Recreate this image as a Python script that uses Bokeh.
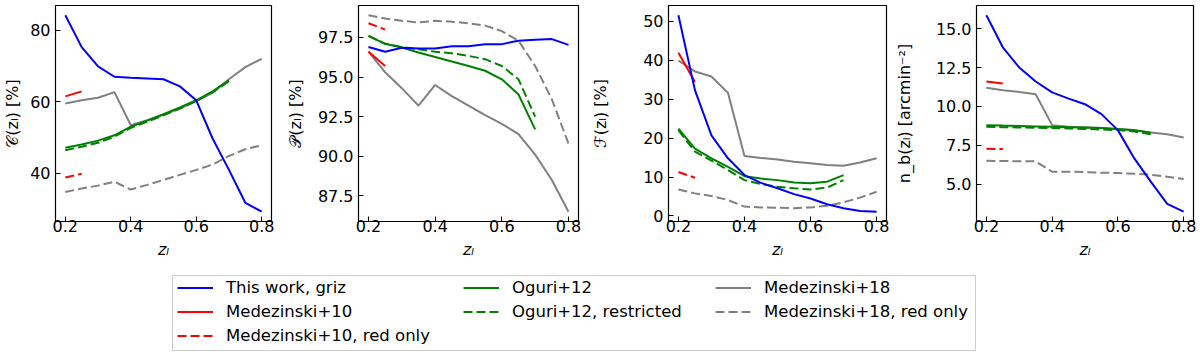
import numpy as np
from bokeh.plotting import figure
from bokeh.models import (Range1d, FixedTicker, NumeralTickFormatter, Legend,
                          LegendItem)
from bokeh.layouts import row, column
from bokeh.embed import file_html
from bokeh.resources import INLINE

# ---------------- data ----------------
z_all = [0.20, 0.25, 0.30, 0.35, 0.40, 0.45, 0.50, 0.55, 0.60, 0.65, 0.70, 0.75, 0.80]
z_ogu = [0.20, 0.25, 0.30, 0.35, 0.40, 0.45, 0.50, 0.55, 0.60, 0.65, 0.70]
z_m10 = [0.20, 0.25]

# completeness C(z_l) [%]
C_this = [84.2, 75.3, 69.9, 67.0, 66.7, 66.5, 66.3, 64.3, 60.4, 49.7, 40.9, 31.7, 29.2]
C_m10 = [61.5, 62.9]
C_m10_red = [38.8, 39.8]
C_ogu = [47.1, 48.0, 49.1, 50.6, 53.0, 54.7, 56.5, 58.4, 60.4, 62.9, 66.0]
C_ogu_res = [46.4, 47.4, 48.5, 50.2, 52.7, 54.4, 56.2, 58.1, 60.2, 62.7, 65.7]
C_m18 = [59.5, 60.4, 61.1, 62.7, 53.4, 54.8, 56.4, 58.1, 60.2, 62.5, 66.3, 69.7, 72.0]
C_m18_red = [34.7, 35.7, 36.5, 37.6, 35.4, 36.7, 38.1, 39.5, 40.9, 42.4, 44.8, 46.7, 47.8]

# purity P(z_l) [%]
P_this = [96.9, 96.6, 96.85, 96.8, 96.8, 96.95, 96.95, 97.08, 97.08, 97.3, 97.35, 97.4, 97.03]
P_m10 = [96.6, 95.7]
P_m10_red = [98.4, 98.0]
P_ogu = [97.6, 97.1, 96.87, 96.55, 96.27, 95.98, 95.7, 95.4, 94.86, 93.9, 91.7]
P_ogu_res = [97.6, 97.1, 96.9, 96.76, 96.6, 96.5, 96.34, 96.13, 95.7, 94.86, 92.5]
P_m18 = [96.6, 95.3, 94.3, 93.2, 94.5, 93.8, 93.2, 92.6, 92.05, 91.4, 90.1, 88.5, 86.5]
P_m18_red = [98.9, 98.7, 98.55, 98.45, 98.55, 98.5, 98.4, 98.25, 97.9, 97.3, 95.7, 93.6, 90.8]

# contamination F(z_l) [%]
F_this = [51.5, 32.3, 20.7, 14.8, 10.5, 8.5, 7.1, 5.6, 4.5, 3.0, 2.0, 1.3, 1.1]
F_m10 = [41.9, 34.4]
F_m10_red = [11.3, 9.8]
F_ogu = [22.4, 17.3, 14.8, 12.6, 10.2, 9.6, 9.2, 8.6, 8.4, 8.8, 10.5]
F_ogu_res = [22.0, 16.5, 14.2, 11.8, 9.2, 8.2, 7.5, 7.1, 6.8, 7.3, 9.2]
F_m18 = [39.9, 37.1, 35.8, 31.6, 15.4, 14.9, 14.5, 13.9, 13.5, 13.1, 12.9, 13.7, 14.8]
F_m18_red = [6.8, 5.8, 5.1, 4.1, 2.4, 2.2, 2.1, 2.0, 2.2, 2.6, 3.5, 4.7, 6.2]

# background density n_b(z_l) [arcmin^-2]
N_this = [15.86, 13.8, 12.5, 11.6, 10.9, 10.5, 10.14, 9.5, 8.47, 6.65, 5.15, 3.72, 3.22]
N_m10 = [11.6, 11.47]
N_m10_red = [7.27, 7.25]
N_ogu = [8.79, 8.76, 8.74, 8.71, 8.68, 8.66, 8.64, 8.6, 8.55, 8.47, 8.3]
N_ogu_res = [8.68, 8.66, 8.64, 8.62, 8.6, 8.58, 8.55, 8.51, 8.47, 8.38, 8.21]
N_m18 = [11.2, 11.04, 10.93, 10.78, 8.79, 8.68, 8.64, 8.6, 8.53, 8.47, 8.32, 8.21, 8.0]
N_m18_red = [6.5, 6.48, 6.47, 6.46, 5.79, 5.79, 5.77, 5.73, 5.71, 5.66, 5.6, 5.47, 5.32]

labels = ["This work, griz", "Medezinski+10", "Medezinski+10, red only",
          "Oguri+12", "Oguri+12, restricted", "Medezinski+18", "Medezinski+18, red only"]
x_ticks = [0.2, 0.4, 0.6, 0.8]

# ---------------- styling ----------------
FONT = "DejaVu Sans"
STYLE = {
    "This work, griz": ("blue", "solid"),
    "Medezinski+10": ("red", "solid"),
    "Medezinski+10, red only": ("red", "9 4"),
    "Oguri+12": ("green", "solid"),
    "Oguri+12, restricted": ("green", "9 4"),
    "Medezinski+18": ("gray", "solid"),
    "Medezinski+18, red only": ("gray", "9 4"),
}
LW = 2

panels = [
    dict(ylabel="𝒞(zₗ) [%]", yticks=[40, 60, 80], fmt="0",
         series=[C_m18_red, C_m18, C_ogu_res, C_ogu, C_m10_red, C_m10, C_this]),
    dict(ylabel="𝒫(zₗ) [%]", yticks=[87.5, 90.0, 92.5, 95.0, 97.5], fmt="0.0",
         series=[P_m18_red, P_m18, P_ogu_res, P_ogu, P_m10_red, P_m10, P_this]),
    dict(ylabel="ℱ(zₗ) [%]", yticks=[0, 10, 20, 30, 40, 50], fmt="0",
         series=[F_m18_red, F_m18, F_ogu_res, F_ogu, F_m10_red, F_m10, F_this]),
    dict(ylabel="n_b(zₗ) [arcmin⁻²]", yticks=[5.0, 7.5, 10.0, 12.5, 15.0], fmt="0.0",
         series=[N_m18_red, N_m18, N_ogu_res, N_ogu, N_m10_red, N_m10, N_this]),
]
series_names = ["Medezinski+18, red only", "Medezinski+18", "Oguri+12, restricted",
                "Oguri+12", "Medezinski+10, red only", "Medezinski+10", "This work, griz"]
series_z = [z_all, z_all, z_ogu, z_ogu, z_m10, z_m10, z_all]

# geometry: (min_border_left, frame width, min_border_right, ylabel standoff)
geom = [(50, 221, 10, 5), (77, 220, 10, 10), (76, 222, 5, 30), (81, 221, 6, 19)]
PANEL_H = 268
TOP, BOTTOM = 5, 47

figs = []
for pan, (bl, fw, br, lso) in zip(panels, geom):
    vals = np.concatenate([np.asarray(s, float) for s in pan["series"]])
    lo, hi = vals.min(), vals.max()
    pad = 0.05 * (hi - lo)
    p = figure(width=bl + fw + br, height=PANEL_H,
               x_range=Range1d(0.17, 0.83), y_range=Range1d(lo - pad, hi + pad),
               output_backend="svg", toolbar_location=None,
               min_border_left=bl, min_border_right=br,
               min_border_top=TOP, min_border_bottom=BOTTOM)
    p.grid.visible = False
    p.outline_line_color = "black"
    p.outline_line_width = 1.2
    for name, zz, yy in zip(series_names, series_z, pan["series"]):
        col, dash = STYLE[name]
        p.line(zz, yy, line_color=col, line_width=LW, line_dash=dash)
    for ax in (p.xaxis[0], p.yaxis[0]):
        ax.axis_line_color = None
        ax.major_tick_in = 5
        ax.major_tick_out = 0
        ax.major_tick_line_color = "black"
        ax.major_tick_line_width = 1
        ax.minor_tick_line_color = None
        ax.major_label_text_font = FONT
        ax.major_label_text_font_size = "16px"
        ax.major_label_text_color = "black"
        ax.axis_label_text_font = FONT
        ax.axis_label_text_font_size = "16px"
        ax.axis_label_text_color = "black"
    p.xaxis.ticker = FixedTicker(ticks=x_ticks)
    p.xaxis.formatter = NumeralTickFormatter(format="0.0")
    p.xaxis.axis_label = "zₗ"
    p.xaxis.axis_label_text_font_style = "italic"
    p.xaxis.major_label_standoff = -2
    p.xaxis.axis_label_standoff = 5
    p.yaxis.ticker = FixedTicker(ticks=pan["yticks"])
    p.yaxis.formatter = NumeralTickFormatter(format=pan["fmt"])
    p.yaxis.axis_label = pan["ylabel"]
    p.yaxis.axis_label_text_font_style = "normal"
    p.yaxis.major_label_standoff = 5
    p.yaxis.axis_label_standoff = lso
    figs.append(p)

# ---------------- legend panel ----------------
LEG_W, LEG_H = 1199, 89
lg_left, lg_top, lg_fh = 172, 7, 75
lg_fw = 803
lg = figure(width=LEG_W, height=LEG_H, x_range=Range1d(0, 1), y_range=Range1d(0, 1),
            output_backend="svg", toolbar_location=None,
            min_border_left=lg_left, min_border_right=LEG_W - lg_left - lg_fw,
            min_border_top=lg_top, min_border_bottom=LEG_H - lg_top - lg_fh)
lg.axis.visible = False
lg.grid.visible = False
lg.outline_line_color = "#cccccc"
lg.outline_line_width = 1

columns = [labels[0:3], labels[3:5], labels[5:7]]
col_x = [5, 291, 543]
for names, cx in zip(columns, col_x):
    items = []
    for name in names:
        col, dash = STYLE[name]
        # legend key only: a single NaN point draws nothing in the frame
        r = lg.line([np.nan], [np.nan], line_color=col, line_width=LW, line_dash=dash)
        items.append(LegendItem(label=name, renderers=[r]))
    n = len(names)
    h = n * 19 + (n - 1) * 5
    leg = Legend(items=items, location=(cx, lg_fh - 2.5 - h), orientation="vertical",
                 border_line_alpha=0, background_fill_alpha=0, padding=0, margin=0,
                 spacing=5, glyph_width=36, glyph_height=19, label_height=19,
                 label_standoff=13, label_text_font=FONT, label_text_font_size="16.5px",
                 label_text_color="black")
    lg.add_layout(leg)

layout = column(row(*figs), lg)
open("out.html", "w").write(file_html(layout, INLINE))
